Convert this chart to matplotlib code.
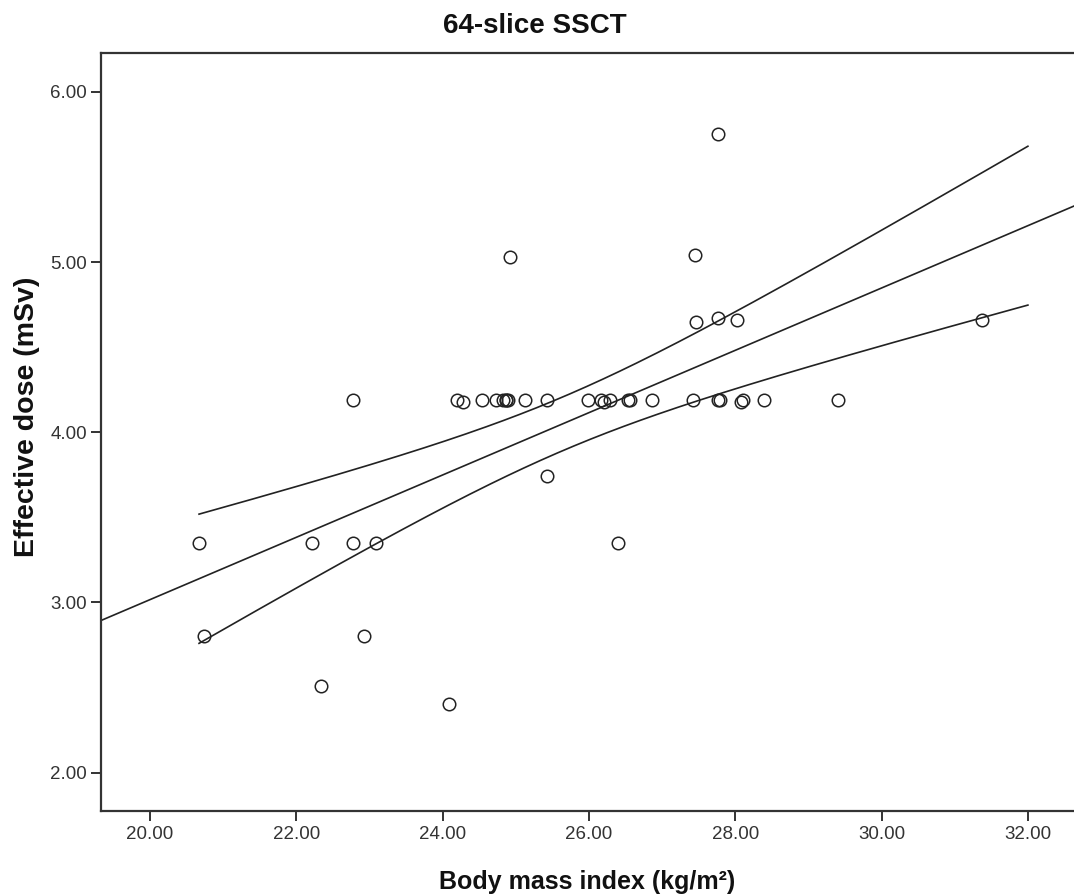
import numpy as np
import matplotlib
matplotlib.use('Agg')
import matplotlib.pyplot as plt

# BMI (kg/m2) and effective dose (mSv)
bmi = [
    22.78, 24.20, 24.28, 24.54, 24.73, 24.83, 24.87, 24.87, 24.90, 25.13,
    25.43, 25.99, 26.16, 26.20, 26.29, 26.54, 26.56, 26.86, 27.42, 27.77,
    27.79, 28.08, 28.10, 28.39, 29.40,
    25.43, 20.67, 22.22, 22.78, 23.09, 26.40,
    20.74, 22.92, 22.34, 24.09,
    24.92, 27.77, 27.45, 27.46, 27.77, 28.03, 31.37,
]
dose = [
    4.19, 4.19, 4.18, 4.19, 4.19, 4.19, 4.19, 4.19, 4.19, 4.19,
    4.19, 4.19, 4.19, 4.18, 4.19, 4.19, 4.19, 4.19, 4.19, 4.19,
    4.19, 4.18, 4.19, 4.19, 4.19,
    3.74, 3.35, 3.35, 3.35, 3.35, 3.35,
    2.80, 2.80, 2.51, 2.40,
    5.03, 5.75, 5.04, 4.65, 4.67, 4.66, 4.66,
]

x_ticks = [20, 22, 24, 26, 28, 30, 32]
y_ticks = [2, 3, 4, 5, 6]
x_lim = (19.33, 32.63)
y_lim = (1.774, 6.23)
band_end = 32.0

x = np.array(bmi)
y = np.array(dose)
n = len(x)

# least squares fit + 95% CI of the mean
slope, intercept = np.polyfit(x, y, 1)
resid = y - (slope * x + intercept)
s = np.sqrt(np.sum(resid ** 2) / (n - 2))
sxx = np.sum((x - x.mean()) ** 2)
df = n - 2
z = 1.959964
t_crit = z + (z**3 + z) / (4 * df) + (5 * z**5 + 16 * z**3 + 3 * z) / (96 * df**2)

xf = np.linspace(x_lim[0], x_lim[1], 200)
xb = np.linspace(x.min(), band_end, 200)
yb = slope * xb + intercept
hw = t_crit * s * np.sqrt(1.0 / n + (xb - x.mean()) ** 2 / sxx)

plt.rcParams['font.family'] = ['Liberation Sans', 'DejaVu Sans']

fig = plt.figure(figsize=(10.74, 8.94), dpi=100)
ax = fig.add_axes([101 / 1074, 1 - 811 / 894, 1 - 101 / 1074, (811 - 52.7) / 894])

line_kw = dict(color='#222222', lw=1.2)
ax.plot(xf, slope * xf + intercept, **line_kw)
ax.plot(xb, yb + hw, **line_kw)
ax.plot(xb, yb - hw, **line_kw)
ax.plot(x, y, 'o', mfc='none', mec='#222222', mew=1.1, ms=9, zorder=3)

ax.set_xlim(*x_lim)
ax.set_ylim(*y_lim)
ax.set_xticks(x_ticks)
ax.set_yticks(y_ticks)
ax.set_xticklabels([f'{v:.2f}' for v in x_ticks])
ax.set_yticklabels([f'{v:.2f}' for v in y_ticks])
ax.tick_params(direction='out', length=7, width=1.4, color='#333333',
               labelsize=13.5, labelcolor='#333333')
ax.tick_params(axis='x', pad=4)
ax.tick_params(axis='y', pad=3)

for side in ['left', 'bottom', 'top']:
    ax.spines[side].set_linewidth(1.6)
    ax.spines[side].set_color('#333333')
ax.spines['right'].set_visible(False)

ax.set_xlabel('Body mass index (kg/m²)', fontsize=18, fontweight='bold', color='#111111')
ax.set_ylabel('Effective dose (mSv)', fontsize=20.5, fontweight='bold', color='#111111')
ax.xaxis.set_label_coords(0.5, -0.078)
ax.yaxis.set_label_coords(-0.063, 0.52)

fig.text(0.498, 1 - 26 / 894, '64-slice SSCT', ha='center', va='center',
         fontsize=20, fontweight='bold', color='#111111')

fig.savefig('out.png', dpi=100)
